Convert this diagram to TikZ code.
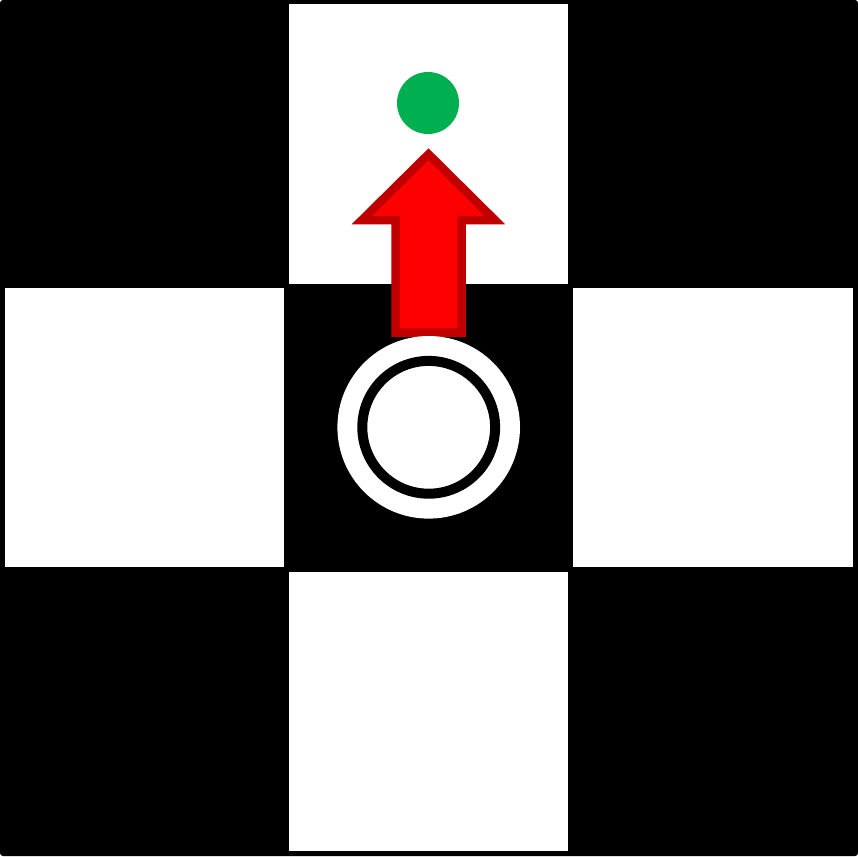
\documentclass[tikz,border=0pt]{standalone}
\usepackage{tikz}
\usetikzlibrary{positioning}
\definecolor{boardcolor}{RGB}{0, 0, 0}
\definecolor{goalcolor}{RGB}{0, 176, 80}
\definecolor{arrowfillcolor}{RGB}{255, 0, 0}
\definecolor{arrowedgecolor}{RGB}{192, 0, 0}
\tikzset{
cell/.style={
  fill=white,
  minimum width=279pt,
  minimum height=279pt,
  inner sep=0pt,
  outer sep=0pt
},
agentbase/.style={
  circle,
  fill=white,
  minimum size=182.6pt,
  inner sep=0pt
},
agentring/.style={
  circle,
  draw=boardcolor,
  line width=10pt,
  minimum size=132.8pt,
  inner sep=0pt
},
goal/.style={
  circle,
  fill=goalcolor,
  minimum size=62pt,
  inner sep=0pt
},
movearrow/.style={
  fill=arrowfillcolor,
  draw=arrowedgecolor,
  line width=8.5pt,
  line join=miter
}
}

\begin{document}
\begin{tikzpicture}[x=1pt, y=-1pt]
  % board
  \fill[boardcolor, rounded corners=3pt] (0,0) rectangle (858,856);
  \useasboundingbox (0,0) rectangle (858,856);
  % free cells
  \node[cell] (north) at (428.5,144) {};
  \node[cell] (west) at (144.5,427.5) {};
  \node[cell, minimum width=280pt] (east) at (713,427.5) {};
  \node[cell] (south) at (428.5,711.5) {};
  % goal
  \node[goal] (target) at (428,103) {};
  % move
  \draw[movearrow] (428.5,154.3) -- (494.8,220) -- (461.5,220) -- (461.5,332.5)
    -- (395.5,332.5) -- (395.5,220) -- (362,220) -- cycle;
  % agent
  \node[agentbase] (agent) at (428.7,427.3) {};
  \node[agentring] (agentin) at (agent.center) {};
\end{tikzpicture}
\end{document}
